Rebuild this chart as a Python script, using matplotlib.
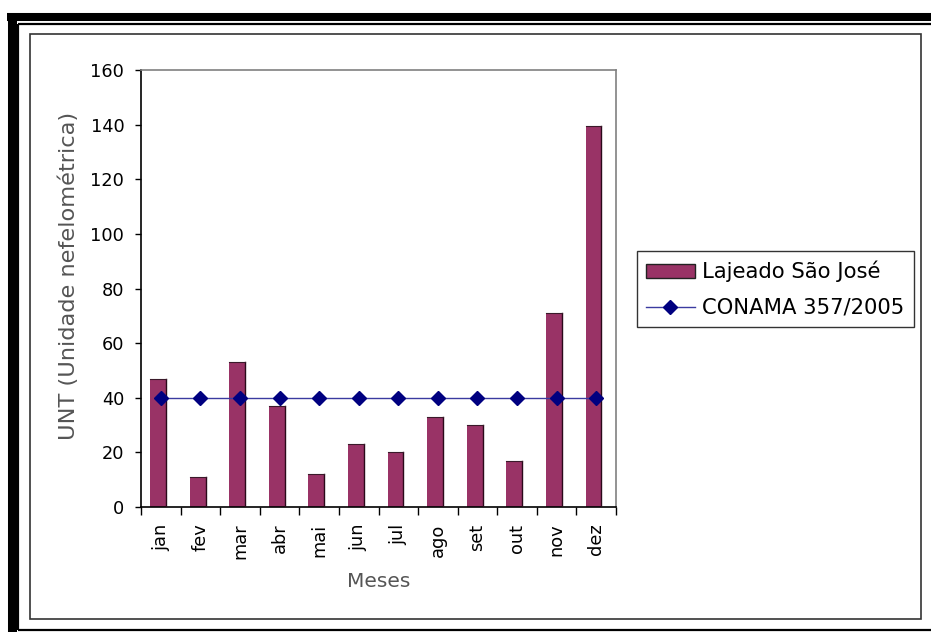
import matplotlib
matplotlib.use("Agg")
import matplotlib.pyplot as plt
from matplotlib.patches import Rectangle
from matplotlib.lines import Line2D
import numpy as np

plt.rcParams['font.family'] = ['DejaVu Sans']

months = ["jan", "fev", "mar", "abr", "mai", "jun", "jul", "ago", "set", "out", "nov", "dez"]
lajeado = [47, 11, 53, 37, 12, 23, 20, 33, 30, 17, 71, 139.5]
conama = [40] * 12
yticks = [0, 20, 40, 60, 80, 100, 120, 140, 160]

W, H = 931, 632
fig = plt.figure(figsize=(W / 100, H / 100), dpi=100)

def fx(px):
    return px / W

def fy(py):
    return 1 - py / H

# thick black outer frame
fig.add_artist(Line2D([fx(7), fx(931)], [fy(16.8), fy(16.8)], color='black', lw=5.8,
                      transform=fig.transFigure, solid_capstyle='butt'))
fig.add_artist(Line2D([fx(11.5), fx(11.5)], [fy(13), fy(632)], color='black', lw=6.5,
                      transform=fig.transFigure, solid_capstyle='butt'))
# thin black second line
fig.add_artist(Line2D([fx(18.3), fx(931)], [fy(24.3), fy(24.3)], color='black', lw=1.6,
                      transform=fig.transFigure, solid_capstyle='butt'))
fig.add_artist(Line2D([fx(18.3), fx(18.3)], [fy(23.5), fy(629.7)], color='black', lw=1.6,
                      transform=fig.transFigure, solid_capstyle='butt'))
fig.add_artist(Line2D([fx(17.5), fx(931)], [fy(629.7), fy(629.7)], color='black', lw=1.6,
                      transform=fig.transFigure, solid_capstyle='butt'))
# gray chart-area border
fig.add_artist(Rectangle((fx(29.7), fy(618.7)), fx(921.3) - fx(29.7), fy(34) - fy(618.7),
                         transform=fig.transFigure, fill=False, edgecolor='#333333', linewidth=1.2))

ax = fig.add_axes([fx(141), fy(507), fx(616) - fx(141), fy(70) - fy(507)])

x = np.arange(len(months))
off = -0.07
bw = 0.4
bars = ax.bar(x + off, lajeado, width=bw, color='#993366', edgecolor='none', zorder=2,
              label='Lajeado São José')
# dark right edge and top on bars
for xi, v in zip(x, lajeado):
    ax.plot([xi + off + bw / 2, xi + off + bw / 2], [0, v], color='#2a0a1a', lw=1.0, zorder=3)
    ax.plot([xi + off - bw / 2, xi + off + bw / 2], [v, v], color='#3a1a2a', lw=0.8, zorder=3)

line, = ax.plot(x, conama, color='#3b3ba0', lw=1.0, marker='D', markersize=7.5,
                markerfacecolor='#000080', markeredgecolor='#000080', zorder=4,
                label='CONAMA 357/2005')

ax.set_xlim(-0.5, len(months) - 0.5)
ax.set_ylim(0, 160)
ax.set_yticks(yticks)
ax.set_yticklabels([str(t) for t in yticks], fontsize=12.8)
ax.set_xticks(x)
ax.set_xticklabels(months, rotation=90, fontsize=12.8)
ax.set_xticks(np.arange(len(months) + 1) - 0.5, minor=True)
ax.tick_params(axis='x', which='major', length=0, pad=12)
ax.tick_params(axis='x', which='minor', length=6, direction='out', width=1, color='black')
ax.tick_params(axis='y', which='major', length=4, direction='out', width=1, pad=8)

for s in ['top', 'right']:
    ax.spines[s].set_color('#808080')
    ax.spines[s].set_linewidth(1.2)
for s in ['left', 'bottom']:
    ax.spines[s].set_color('black')
    ax.spines[s].set_linewidth(1.2)

ax.set_ylabel('UNT (Unidade nefelométrica)', fontsize=16.2, color='#555555', labelpad=9)
ax.yaxis.set_label_coords(-0.13, 0.528)
ax.set_xlabel('Meses', fontsize=14.5, color='#555555', labelpad=9)

leg = fig.legend(handles=[bars, line], labels=['Lajeado São José', 'CONAMA 357/2005'],
                 loc='upper left', bbox_to_anchor=(fx(636.7), fy(251)), fontsize=15.2,
                 frameon=True, fancybox=False, edgecolor='#333333', framealpha=1,
                 handlelength=2.3, handleheight=0.65, borderpad=0.45, labelspacing=0.75,
                 handletextpad=0.35, borderaxespad=0)
leg.get_frame().set_linewidth(1.0)
for p in leg.get_patches():
    p.set_edgecolor('#222222')
    p.set_linewidth(1.0)

fig.savefig('out.png', dpi=100)
